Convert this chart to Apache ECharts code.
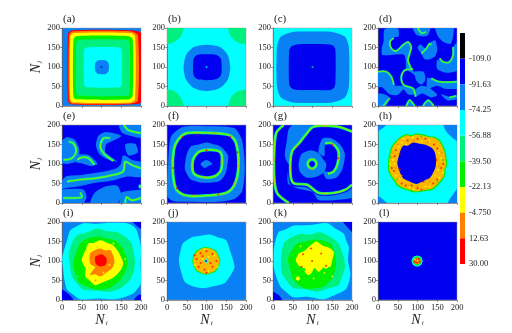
<!DOCTYPE html>
<html>
<head>
<meta charset="utf-8">
<title>Contour panels</title>
<style>
  html, body { margin: 0; padding: 0; background: #fff; }
  #chart { width: 512px; height: 333px; }
</style>
<script src="https://cdn.jsdelivr.net/npm/echarts@6/dist/echarts.min.js"></script>
</head>
<body>
<div id="chart"></div>
<script>
// colour levels, top of the colour bar first; the last entry is the mix seen in the noisy rings
const levelColors = ['#000000', '#0000f0', '#0a80f5', '#00ffff', '#00f080', '#00f000', '#ffff00', '#ff8000', '#ff0000', '#f8b800']
const barLevels = [0, 1, 2, 3, 4, 5, 6, 7, 8]
const barLabels = ['', '-109.0', '-91.63', '-74.25', '-56.88', '-39.50', '-22.13', '-4.750', '12.63', '30.00']
const panelNames = ['(a)', '(b)', '(c)', '(d)', '(e)', '(f)', '(g)', '(h)', '(i)', '(j)', '(k)', '(l)']
const axisTicks = [0, 50, 100, 150, 200]

// regions: [level, outline in Ni/Nj]
const regionsA = [
  [8, [[15, 12], [25, 4], [170, 4], [203, 12], [203, 185], [175, 194], [25, 194], [15, 184]]],
  [7, [[18, 14], [26, 6], [172, 6], [192, 14], [192, 180], [175, 191], [26, 191], [18, 182]]],
  [6, [[21, 16], [29, 9], [174, 9], [185, 18], [185, 178], [174, 187], [29, 187], [21, 178]]],
  [5, [[29, 24], [36, 17], [170, 17], [179, 26], [179, 170], [170, 179], [36, 179], [29, 170]]],
  [4, [[36, 33], [44, 26], [164, 26], [171, 33], [171, 162], [164, 170], [44, 170], [36, 162]]],
  [3, [[56, 54], [62, 48], [146, 48], [151, 54], [151, 144], [146, 150], [62, 150], [56, 144]]],
  [2, [[84, 90], [92, 82], [110, 82], [118, 90], [118, 109], [110, 117], [92, 117], [84, 109]]]
]
const regionsB = [
  [4, [[-20, 158], [0, 158], [20, 165], [35, 178], [43, 202], [43, 220], [-20, 220]]],
  [4, [[154, 220], [154, 202], [160, 180], [175, 165], [200, 158], [220, 158], [220, 220]]],
  [4, [[-20, 42], [0, 42], [20, 38], [35, 22], [43, -2], [43, -20], [-20, -20]]],
  [4, [[154, -20], [154, -2], [162, 22], [178, 37], [200, 42], [220, 42], [220, -20]]],
  [2, [[42, 98], [48, 68], [68, 46], [100, 38], [134, 46], [154, 68], [160, 98], [154, 130], [134, 151], [100, 157], [68, 151], [48, 130]]],
  [1, [[67, 80], [76, 69], [100, 66], [126, 69], [137, 80], [137, 120], [126, 131], [100, 133], [76, 131], [67, 120]]]
]
const regionsC = [
  [2, [[10, 50], [20, 22], [50, 9], [100, 8], [150, 9], [182, 22], [192, 50], [192, 150], [182, 178], [150, 190], [100, 191], [50, 190], [20, 178], [10, 150]]],
  [1, [[41, 55], [48, 45], [60, 41], [100, 41], [145, 41], [154, 46], [158, 58], [158, 145], [152, 155], [142, 158], [60, 158], [47, 153], [41, 143]]]
]
const regionsD = [
  [2, [[14, 165], [17, 197], [50, 199], [52, 178], [38, 176], [30, 164], [34, 147], [46, 141], [63, 156], [76, 164], [84, 151], [80, 134], [78, 117], [88, 90], [115, 88], [120, 68], [110, 55], [97, 65], [92, 80], [72, 95], [70, 120], [65, 132], [45, 132], [20, 130], [10, 132], [10, 150]]],
  [2, [[-5, 86], [21, 88], [34, 75], [40, 54], [62, 52], [65, 54], [89, 45], [92, 30], [75, 30], [65, 42], [50, 28], [30, 30], [10, 48], [-5, 50]]],
  [2, [[-5, 30], [15, 30], [30, 20], [15, -5], [-5, -5]]],
  [2, [[95, 24], [112, 32], [135, 22], [150, 28], [128, 48], [110, 52], [95, 42]]],
  [2, [[100, 150], [110, 134], [118, 120], [132, 120], [145, 128], [150, 145], [145, 168], [132, 162], [120, 148], [108, 158]]],
  [2, [[88, 205], [98, 182], [125, 180], [132, 205]]],
  [2, [[145, 205], [152, 178], [165, 165], [185, 160], [190, 205]]],
  [2, [[150, 118], [165, 113], [181, 113], [190, 130], [190, 151], [205, 165], [205, 95], [175, 85], [150, 95]]],
  [2, [[125, 72], [135, 71], [156, 62], [205, 62], [205, 46], [170, 44], [150, 52], [125, 45]]],
  [2, [[68, -5], [80, 18], [96, -5]]],
  [2, [[110, -5], [127, 18], [145, -5]]],
  [2, [[160, 30], [181, 24], [205, 28], [205, 18], [175, 15]]]
]
const regionsE = [
  [2, [[-5, 150], [10, 168], [32, 162], [44, 135], [36, 108], [10, 100], [-5, 105]]],
  [2, [[32, 122], [50, 125], [70, 122], [90, 100], [72, 95], [50, 102], [36, 104]]],
  [2, [[92, 172], [110, 182], [135, 178], [150, 172], [130, 160], [112, 150], [110, 130], [140, 106], [120, 110], [95, 125], [86, 148]]],
  [2, [[160, 150], [185, 152], [192, 130], [168, 122]]],
  [2, [[-5, 46], [10, 68], [50, 72], [90, 78], [135, 88], [148, 98], [155, 122], [178, 110], [205, 102], [205, 68], [165, 68], [130, 58], [85, 52], [40, 42], [10, 38], [-5, 36]]],
  [2, [[72, -5], [82, 25], [110, 42], [140, 44], [150, 18], [135, -5]]],
  [2, [[-5, -5], [-5, 32], [25, 36], [55, 34], [62, 15], [50, -5]]],
  [2, [[148, -5], [150, 26], [178, 32], [205, 32], [205, -5]]],
  [2, [[145, 205], [152, 180], [175, 172], [205, 168], [205, 205]]]
]
const regionsF = [
  [2, [[0, 20], [15, 5], [60, 3], [130, 3], [170, 10], [190, 30], [197, 90], [190, 160], [170, 192], [100, 197], [40, 195], [10, 170], [3, 100]]],
  [1, [[28, 162], [49, 179], [99, 180], [158, 174], [175, 153], [181, 94], [171, 47], [150, 26], [99, 19], [49, 19], [24, 34], [15, 77], [17, 136]]],
  [2, [[60, 145], [80, 150], [100, 155], [120, 150], [135, 145], [148, 132], [155, 120], [153, 100], [150, 80], [140, 62], [130, 55], [110, 52], [90, 52], [72, 56], [60, 60], [50, 75], [45, 90], [47, 110], [50, 125]]],
  [1, [[82, 132], [116, 136], [137, 128], [137, 85], [120, 68], [91, 66], [67, 77], [66, 111]]],
  [2, [[85, 100], [100, 110], [115, 100], [105, 95], [95, 90]]]
]
const regionsG = [
  [2, [[40, 190], [55, 203], [100, 198], [80, 172], [66, 155], [45, 132], [40, 100], [30, 120], [35, 160]]],
  [2, [[38, 80], [45, 45], [85, 40], [115, 20], [155, 20], [185, 28], [205, 40], [205, 15], [160, 8], [115, 8], [100, 28], [60, 38], [38, 50]]],
  [2, [[65, 100], [72, 125], [95, 135], [115, 128], [125, 115], [135, 100], [130, 80], [112, 68], [85, 65], [68, 80]]],
  [2, [[115, 130], [125, 165], [150, 165], [170, 150], [182, 125], [175, 85], [160, 65], [135, 62], [128, 80], [150, 80], [160, 100], [162, 132], [148, 152], [132, 152], [130, 120]]],
  [1, [[91, 100], [99, 108], [107, 100], [99, 92]]]
]
const regionsH = [
  [2, [[-10, 178], [30, 210], [-10, 210]]],
  [2, [[165, 210], [175, 180], [210, 155], [210, 210]]],
  [2, [[-10, 25], [30, -10], [-10, -10]]],
  [2, [[173, -10], [185, 15], [210, 45], [210, -10]]],
  [5, [[72, 177], [85, 174], [95, 178], [114, 176], [128, 172], [142, 170], [156, 162], [165, 148], [170, 135], [173, 119], [175, 100], [171, 84], [169, 68], [158, 52], [139, 34], [118, 30], [93, 27], [72, 33], [58, 38], [46, 47], [36, 62], [27, 78], [25, 94], [27, 120], [34, 145], [48, 162], [60, 172]]],
  [9, [[73, 174], [85, 171], [95, 175], [113, 173], [127, 169], [140, 167], [153, 160], [162, 146], [167, 134], [170, 119], [172, 100], [168, 85], [166, 69], [155, 54], [137, 37], [117, 33], [93, 30], [73, 36], [60, 41], [48, 50], [39, 64], [30, 79], [28, 94], [30, 119], [37, 143], [50, 160], [62, 169]]],
  [1, [[59, 140], [66, 148], [75, 147], [89, 155], [105, 152], [122, 149], [135, 142], [143, 132], [147, 114], [146, 94], [140, 78], [131, 64], [118, 58], [97, 49], [80, 55], [63, 64], [55, 80], [49, 102], [53, 122]]]
]
const regionsI = [
  [3, [[12, 150], [21, 179], [35, 188], [55, 197], [85, 195], [120, 198], [164, 197], [180, 190], [189, 179], [196, 155], [200, 136], [199, 90], [200, 43], [192, 30], [181, 17], [160, 8], [130, 2], [90, 4], [46, 2], [28, 14], [13, 26], [6, 52], [3, 77], [1, 110]]],
  [4, [[38, 166], [60, 172], [88, 183], [115, 176], [139, 174], [160, 162], [176, 145], [182, 120], [185, 94], [180, 68], [168, 47], [148, 30], [122, 21], [90, 24], [55, 26], [38, 42], [25, 60], [20, 90], [17, 119], [25, 145]]],
  [5, [[46, 145], [65, 158], [88, 162], [112, 158], [134, 153], [150, 138], [160, 119], [166, 98], [162, 77], [152, 58], [139, 43], [118, 30], [92, 26], [65, 34], [42, 47], [33, 70], [28, 94], [36, 122]]],
  [6, [[67, 145], [80, 146], [97, 153], [115, 146], [130, 140], [142, 125], [149, 111], [155, 95], [151, 81], [140, 66], [126, 55], [105, 46], [84, 38], [70, 50], [59, 60], [60, 80], [50, 102], [58, 125]]],
  [7, [[71, 119], [84, 128], [97, 132], [110, 127], [122, 128], [130, 112], [133, 98], [130, 88], [126, 81], [112, 70], [97, 60], [84, 66], [71, 64], [78, 76], [84, 85], [74, 90], [70, 98]]],
  [8, [[84, 111], [92, 115], [101, 117], [108, 112], [113, 106], [113, 96], [109, 89], [100, 86], [92, 87], [86, 92], [84, 98]]],
  [1, [[175, 205], [205, 205], [205, 180], [190, 190]]],
  [1, [[-5, 28], [20, 12], [30, -5], [-5, -5]]],
  [1, [[180, -5], [205, -5], [205, 15], [190, 10]]]
]
const regionsJ = [
  [3, [[66, 162], [85, 165], [108, 168], [130, 160], [150, 153], [160, 125], [171, 85], [162, 65], [145, 43], [118, 35], [91, 30], [65, 35], [45, 47], [35, 75], [30, 102], [34, 125], [40, 145]]],
  [5, [[99, 136], [124, 126], [135, 100], [125, 75], [99, 65], [74, 75], [64, 100], [74, 126]]],
  [9, [[99, 134], [123, 124], [133, 100], [123, 77], [99, 67], [76, 77], [66, 100], [76, 124]]]
]
const regionsK = [
  [3, [[3, 136], [14, 174], [30, 180], [52, 191], [95, 192], [137, 197], [160, 182], [179, 170], [186, 150], [192, 136], [190, 100], [196, 68], [192, 45], [183, 26], [155, 12], [128, 2], [90, 8], [52, 7], [32, 22], [19, 34], [8, 60], [2, 85]]],
  [4, [[27, 145], [45, 160], [69, 170], [95, 168], [120, 174], [145, 162], [166, 145], [178, 115], [183, 85], [175, 60], [166, 38], [140, 30], [111, 21], [80, 28], [52, 30], [35, 48], [23, 68], [20, 105]]],
  [5, [[48, 128], [60, 145], [78, 149], [110, 155], [145, 145], [155, 125], [160, 102], [158, 78], [149, 55], [130, 35], [107, 30], [85, 28], [65, 38], [50, 55], [44, 77], [38, 105]]],
  [6, [[65, 119], [78, 125], [95, 140], [110, 150], [125, 140], [140, 135], [154, 123], [150, 102], [145, 85], [130, 85], [116, 72], [105, 82], [95, 68], [82, 80], [69, 85], [58, 100]]],
  [6, [[57, 55], [63, 61], [69, 55], [63, 49]]],
  [6, [[80, 74], [90, 84], [100, 74], [90, 64]]],
  [6, [[126, 88], [134, 96], [142, 88], [134, 80]]],
  [1, [[175, 205], [205, 205], [205, 170], [190, 185]]],
  [1, [[-5, 22], [15, 12], [25, -5], [-5, -5]]]
]
const regionsL = [
  [3, [[99, 114], [109, 110], [113, 100], [109, 90], [99, 86], [89, 90], [85, 100], [89, 110]]],
  [5, [[99, 112], [107, 108], [111, 100], [107, 92], [99, 88], [91, 92], [87, 100], [91, 108]]],
  [7, [[99, 109], [105, 106], [108, 100], [105, 94], [99, 91], [93, 94], [90, 100], [93, 106]]]
]

// thin bright fronts
const ridgesD = [
  [[40, 175], [30, 164], [34, 147], [46, 141], [63, 156], [76, 164], [84, 151], [80, 134], [76, 117], [86, 92]],
  [[0, 88], [21, 88], [34, 75], [40, 54]],
  [[89, 94], [68, 92], [59, 75], [65, 54], [89, 45], [95, 24]],
  [[110, 134], [122, 147], [131, 160], [135, 156]],
  [[190, 151], [190, 130], [181, 113], [165, 113], [156, 122]],
  [[135, 71], [156, 62], [200, 62]],
  [[72, 0], [80, 15], [93, 0]],
  [[114, 0], [127, 14], [141, 0]],
  [[13, 0], [30, 20]],
  [[101, 200], [110, 187], [122, 190]],
  [[181, 22], [198, 26]]
]
const ridgesE = [
  [[4, 111], [25, 115], [36, 132], [29, 153], [17, 157]],
  [[39, 111], [50, 117], [67, 115], [82, 98]],
  [[122, 166], [105, 166], [97, 145], [105, 128], [130, 108]],
  [[13, 55], [46, 60], [88, 64], [130, 72], [155, 81], [160, 106], [176, 98], [200, 89]],
  [[157, 200], [168, 187], [200, 179]],
  [[3, 13], [34, 13], [50, 15], [46, 27]],
  [[160, 0], [164, 15], [176, 7], [200, 13]],
  [[197, 47], [197, 38]]
]
const ridgesG = [
  [[27, 200], [8, 179], [3, 128], [3, 68], [10, 26], [40, 0]],
  [[200, 183], [162, 196], [103, 196], [82, 174], [69, 157], [48, 132], [44, 77], [52, 51], [86, 47], [116, 26], [154, 26], [183, 34], [200, 47]],
  [[132, 153], [149, 153], [166, 132], [164, 102], [154, 81], [139, 75]]
]
const ringsF = [
  [[28, 162], [49, 179], [99, 180], [158, 174], [175, 153], [181, 94], [171, 47], [150, 26], [99, 19], [49, 19], [24, 34], [15, 77], [17, 136]],
  [[82, 132], [116, 136], [137, 128], [137, 85], [120, 68], [91, 66], [67, 77], [66, 111]]
]
const ringsG = [
  [[88, 100], [91, 109], [99, 112], [107, 109], [110, 100], [107, 92], [99, 88], [91, 92]]
]

// single cells that stand out: [Ni, Nj, level]
const dotsA = [[100, 100, 1]]
const dotsB = [[100, 100, 3]]
const dotsC = [[100, 100, 4]]
const dotsF = [[40, 170, 8], [75, 178, 7], [120, 178, 7], [160, 170, 8], [178, 130, 8], [180, 95, 7], [170, 50, 7], [130, 22, 8], [70, 20, 7], [25, 38, 8], [16, 90, 8], [100, 135, 8], [137, 105, 7], [95, 66, 7]]
const dotsG = [[3, 110, 7], [5, 55, 7], [60, 145, 7], [45, 90, 7], [130, 196, 7], [130, 24, 7], [165, 115, 8], [150, 150, 8], [99, 88, 7]]
const dotsH = [
  [100, 165, 8], [75, 160, 8], [60, 155, 6], [45, 135, 8], [38, 110, 6], [35, 90, 8], [45, 70, 6], [60, 50, 8], [80, 40, 6], [100, 38, 8],
  [120, 42, 6], [140, 50, 8], [155, 65, 6], [160, 90, 8], [160, 115, 6], [150, 140, 8], [130, 160, 6], [88, 168, 6], [52, 145, 6], [42, 120, 8],
  [30, 100, 6], [40, 82, 8], [55, 60, 6], [70, 45, 8], [90, 35, 6], [110, 34, 8], [130, 42, 6], [150, 60, 8], [164, 78, 6], [165, 100, 8],
  [155, 128, 6], [142, 150, 8], [120, 165, 8], [65, 165, 6], [48, 60, 5], [32, 118, 5], [85, 32, 5], [165, 110, 5], [110, 170, 5], [150, 55, 5],
  [148, 110, 8], [152, 85, 6], [145, 70, 6], [115, 55, 8], [85, 45, 8], [55, 85, 8], [42, 100, 6], [55, 125, 8], [70, 150, 6], [110, 158, 6],
  [45, 90, 7], [35, 130, 7], [50, 150, 7], [90, 160, 7], [125, 155, 7], [160, 130, 7], [155, 95, 7], [130, 55, 7], [100, 44, 7], [60, 70, 7]
]
const dotsI = [[130, 145, 6], [60, 130, 5], [95, 165, 5], [160, 105, 6], [40, 60, 3], [105, 70, 6], [85, 50, 7], [120, 90, 6], [190, 195, 1], [5, 195, 2]]
const dotsJ = [
  [85, 120, 8], [100, 125, 8], [115, 118, 8], [75, 105, 8], [125, 100, 8], [80, 85, 8], [95, 78, 8], [115, 85, 8], [105, 110, 6], [90, 105, 6],
  [70, 90, 6], [120, 115, 6], [105, 75, 6], [85, 95, 8], [110, 95, 8], [95, 130, 6], [128, 85, 6], [70, 115, 8], [100, 70, 8], [90, 112, 8],
  [99, 105, 3], [95, 100, 3], [103, 100, 3], [99, 96, 3], [99, 100, 1]
]
const dotsK = [[76, 117, 8], [99, 100, 8], [134, 88, 8], [72, 85, 8], [96, 132, 8], [122, 119, 8], [103, 55, 6], [70, 138, 6], [45, 170, 4], [20, 160, 3], [150, 60, 6], [130, 70, 6], [40, 100, 5]]
const dotsL = [[96, 103, 8], [103, 105, 8], [99, 96, 8], [105, 98, 8], [93, 98, 8], [100, 101, 6], [94, 104, 6]]

const panels = [
  { base: 2, regions: regionsA, ridges: [], rings: [], dots: dotsA },
  { base: 3, regions: regionsB, ridges: [], rings: [], dots: dotsB },
  { base: 3, regions: regionsC, ridges: [], rings: [], dots: dotsC },
  { base: 1, regions: regionsD, ridges: ridgesD, rings: [], dots: [], frontWidth: 2 },
  { base: 1, regions: regionsE, ridges: ridgesE, rings: [], dots: [], frontWidth: 2.4 },
  { base: 1, regions: regionsF, ridges: [], rings: ringsF, dots: dotsF, frontWidth: 3 },
  { base: 1, regions: regionsG, ridges: ridgesG, rings: ringsG, dots: dotsG, frontWidth: 2.8 },
  { base: 3, regions: regionsH, ridges: [], rings: [], dots: dotsH },
  { base: 2, regions: regionsI, ridges: [], rings: [], dots: dotsI },
  { base: 2, regions: regionsJ, ridges: [], rings: [], dots: dotsJ },
  { base: 2, regions: regionsK, ridges: [], rings: [], dots: dotsK },
  { base: 1, regions: regionsL, ridges: [], rings: [], dots: dotsL }
]

const serif = '"Liberation Serif", "Times New Roman", serif'
const inkColor = '#222'
const colLefts = [62, 167, 273, 378]
const rowTops = [28, 125, 222]

const nameRich = {
  n: { fontFamily: serif, fontStyle: 'italic', fontSize: 14, color: inkColor },
  sub: { fontFamily: serif, fontStyle: 'italic', fontSize: 7, color: inkColor, padding: [6, 0, 0, 1] }
}

const grids = []
const xAxes = []
const yAxes = []
const titles = []
const series = []

panels.forEach((panel, i) => {
  const col = i % 4
  const row = Math.floor(i / 4)

  grids.push({
    left: colLefts[col],
    top: rowTops[row],
    width: 79,
    height: 78,
    show: true,
    backgroundColor: levelColors[panel.base],
    borderColor: '#999',
    borderWidth: 0.5
  })

  const axisBase = {
    type: 'value',
    gridIndex: i,
    min: axisTicks[0],
    max: axisTicks[axisTicks.length - 1],
    interval: axisTicks[1] - axisTicks[0],
    splitLine: { show: false },
    axisLine: { show: true, onZero: false, lineStyle: { color: '#555', width: 0.6 } },
    axisTick: { show: true, length: 2, lineStyle: { color: '#555', width: 0.6 } }
  }
  const labelStyle = { fontFamily: serif, fontSize: 8.5, color: inkColor, margin: 2 }

  xAxes.push({
    ...axisBase,
    axisLabel: { ...labelStyle, show: row === 2, margin: 3 },
    name: row === 2 ? '{n|N}{sub|i}' : '',
    nameLocation: 'middle',
    nameGap: 9,
    nameTextStyle: { rich: nameRich }
  })
  yAxes.push({
    ...axisBase,
    axisLabel: labelStyle,
    name: col === 0 ? '{n|N}{sub|j}' : '',
    nameLocation: 'middle',
    nameGap: 19,
    nameTextStyle: { rich: nameRich }
  })

  titles.push({
    text: panelNames[i],
    left: colLefts[col] + 1,
    top: rowTops[row] - 14,
    padding: 0,
    textStyle: { fontFamily: serif, fontSize: 11, fontWeight: 'normal', color: inkColor }
  })

  // filled contour regions
  series.push({
    type: 'custom',
    xAxisIndex: i,
    yAxisIndex: i,
    clip: true,
    silent: true,
    data: panel.regions.map((r, k) => [k]),
    renderItem: (params, api) => {
      const region = panel.regions[params.dataIndex]
      return {
        type: 'polygon',
        shape: { points: region[1].map((p) => api.coord(p)), smooth: 0.25 },
        style: { fill: levelColors[region[0]] }
      }
    }
  })

  // bright fronts, open and closed
  const fronts = panel.ridges.map((pts) => ({ pts, closed: false })).concat(panel.rings.map((pts) => ({ pts, closed: true })))
  if (fronts.length) {
    series.push({
      type: 'custom',
      xAxisIndex: i,
      yAxisIndex: i,
      clip: true,
      silent: true,
      data: fronts.map((f, k) => [k]),
      renderItem: (params, api) => {
        const front = fronts[params.dataIndex]
        const shape = { points: front.pts.map((p) => api.coord(p)), smooth: 0.3 }
        const type = front.closed ? 'polygon' : 'polyline'
        return {
          type: 'group',
          children: [
            { type, shape, style: { fill: 'none', stroke: '#00e8a0', lineWidth: panel.frontWidth } },
            { type, shape, style: { fill: 'none', stroke: '#70f800', lineWidth: panel.frontWidth / 2 } }
          ]
        }
      }
    })
  }

  if (panel.dots.length) {
    series.push({
      type: 'scatter',
      xAxisIndex: i,
      yAxisIndex: i,
      silent: true,
      symbolSize: 2,
      data: panel.dots,
      itemStyle: { color: (p) => levelColors[p.value[2]] }
    })
  }
})

// colour bar
const barIndex = panels.length
grids.push({ left: 460, top: 33, width: 5, height: 231 })
xAxes.push({ type: 'category', gridIndex: barIndex, data: ['bar'], show: false })
yAxes.push({
  type: 'value',
  gridIndex: barIndex,
  position: 'right',
  inverse: true,
  min: 0,
  max: barLabels.length - 1,
  interval: 1,
  splitLine: { show: false },
  axisLine: { show: false },
  axisTick: { show: false },
  axisLabel: {
    fontFamily: serif,
    fontSize: 8.5,
    color: inkColor,
    margin: 4,
    formatter: (v) => barLabels[v]
  }
})
barLevels.forEach((level) => {
  series.push({
    type: 'bar',
    xAxisIndex: barIndex,
    yAxisIndex: barIndex,
    stack: 'bar',
    barWidth: '100%',
    silent: true,
    data: [1],
    itemStyle: { color: levelColors[level] }
  })
})

const chart = echarts.init(document.getElementById('chart'), null, { renderer: 'canvas' })
chart.setOption({
  animation: false,
  backgroundColor: '#fff',
  title: titles,
  grid: grids,
  xAxis: xAxes,
  yAxis: yAxes,
  series
})
</script>
</body>
</html>
